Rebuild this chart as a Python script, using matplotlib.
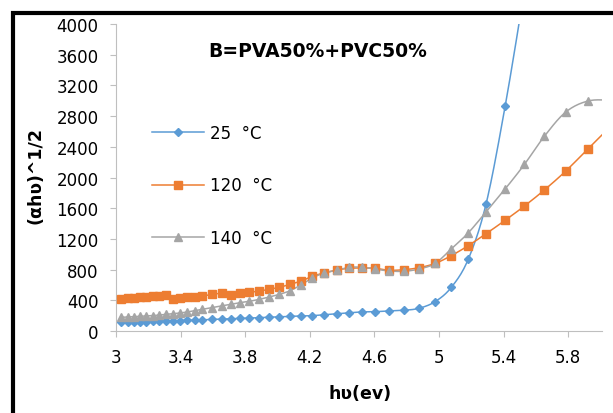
import numpy as np
import matplotlib
matplotlib.use("Agg")
import matplotlib.pyplot as plt
from matplotlib.patches import Rectangle

# photon energy (eV), shared by all three curves
hv = [3.031, 3.072, 3.110, 3.149, 3.188, 3.227, 3.268, 3.312, 3.353, 3.397,
      3.442, 3.488, 3.535, 3.595, 3.659, 3.712, 3.768, 3.826, 3.888, 3.949,
      4.012, 4.078, 4.144, 4.216, 4.289, 4.369, 4.444, 4.524, 4.605, 4.691,
      4.784, 4.877, 4.976, 5.076, 5.181, 5.292, 5.410, 5.530, 5.653, 5.786,
      5.924, 6.070]

t25 = [113, 115, 117, 119, 121, 124, 126, 129, 132, 135,
       138, 142, 146, 151, 156, 160, 164, 169, 174, 179,
       185, 190, 196, 200, 212, 225, 238, 248, 252, 261,
       270, 296, 382, 567, 932, 1655, 2928, 4450, 6100, 7900,
       9800, 11800]

t120 = [417, 428, 434, 439, 446, 452, 460, 466, 421, 428,
        437, 446, 455, 478, 491, 473, 491, 504, 521, 543,
        569, 608, 647, 713, 756, 795, 817, 821, 817, 791,
        799, 825, 880, 981, 1111, 1268, 1442, 1629, 1837, 2085,
        2375, 2680]

t140 = [178, 182, 187, 191, 195, 200, 208, 217, 226, 235,
        248, 265, 282, 305, 330, 348, 369, 387, 413, 443,
        478, 525, 599, 691, 756, 791, 830, 830, 808, 782,
        778, 808, 880, 1068, 1277, 1551, 1850, 2172, 2537, 2854,
        2997, 3010]

etiquetas = ["25  °C", "120  °C", "140  °C"]
colores = ["#5B9BD5", "#ED7D31", "#A5A5A5"]
marcadores = ["D", "s", "^"]
tam_marcador = [4, 6, 6]

xticks = [3, 3.4, 3.8, 4.2, 4.6, 5, 5.4, 5.8]
yticks = list(range(0, 4001, 400))


def suavizar(x, y, pasos=12):
    # curva tipo Catmull-Rom, como la linea suavizada de Excel
    x = np.asarray(x, float)
    y = np.asarray(y, float)
    px = np.concatenate([[2 * x[0] - x[1]], x, [2 * x[-1] - x[-2]]])
    py = np.concatenate([[2 * y[0] - y[1]], y, [2 * y[-1] - y[-2]]])
    t = np.linspace(0, 1, pasos, endpoint=False)
    xs, ys = [], []
    for i in range(1, len(px) - 2):
        for p, out in ((px, xs), (py, ys)):
            p0, p1, p2, p3 = p[i - 1], p[i], p[i + 1], p[i + 2]
            b1 = p1 + (p2 - p0) / 6
            b2 = p2 - (p3 - p1) / 6
            out.extend((1 - t) ** 3 * p1 + 3 * (1 - t) ** 2 * t * b1
                       + 3 * (1 - t) * t ** 2 * b2 + t ** 3 * p2)
    xs.append(x[-1])
    ys.append(y[-1])
    return np.array(xs), np.array(ys)


fig = plt.figure(figsize=(6.13, 4.14), dpi=100)
ax = fig.add_axes([116 / 613, 1 - 332 / 414, (602 - 116) / 613, (332 - 25) / 414])

for serie, etiqueta, color, marca, tam in zip([t25, t120, t140], etiquetas, colores,
                                               marcadores, tam_marcador):
    xs, ys = suavizar(hv, serie)
    ax.plot(xs, ys, color=color, lw=1.1, zorder=2)
    ax.plot(hv, serie, linestyle="none", marker=marca, markersize=tam,
            color=color, zorder=3)
    ax.plot([], [], color=color, lw=1.1, marker=marca, markersize=tam, label=etiqueta)

ax.set_xlim(3, 6.01)
ax.set_ylim(0, 4000)
ax.set_xticks(xticks)
ax.set_xticklabels([f"{v:g}" for v in xticks])
ax.set_yticks(yticks)

for lado in ["top", "right"]:
    ax.spines[lado].set_visible(False)
for lado in ["left", "bottom"]:
    ax.spines[lado].set_color("#BFBFBF")
    ax.spines[lado].set_linewidth(0.8)
ax.tick_params(axis="both", direction="out", length=4.5, width=0.8, color="#BFBFBF",
               labelsize=12, labelcolor="black")
ax.tick_params(axis="x", pad=8)
ax.tick_params(axis="y", pad=8)

ax.set_xlabel("hʋ(ev)", fontsize=12.5, fontweight="bold")
ax.xaxis.set_label_coords(0.502, -0.172)
ax.set_ylabel("(αhʋ)^1/2", fontsize=12.5, fontweight="bold")
ax.yaxis.set_label_coords(-0.148, 0.511)

ax.text(0.415, 0.915, "B=PVA50%+PVC50%", transform=ax.transAxes, ha="center",
        va="center", fontsize=13.5, fontweight="bold")

ax.legend(loc="upper left", bbox_to_anchor=(0.074, 0.674), frameon=False,
          fontsize=12, handlelength=3.1, handletextpad=0.4, labelspacing=2.06,
          borderpad=0, borderaxespad=0)

# marco negro exterior (cortado a la derecha y abajo)
fig.patches.append(Rectangle((12.5 / 613, -0.1), 1.2, 1 - 13.5 / 414 + 0.1,
                             transform=fig.transFigure, fill=False,
                             edgecolor="black", linewidth=3, zorder=10))

fig.savefig("out.png", dpi=100)
